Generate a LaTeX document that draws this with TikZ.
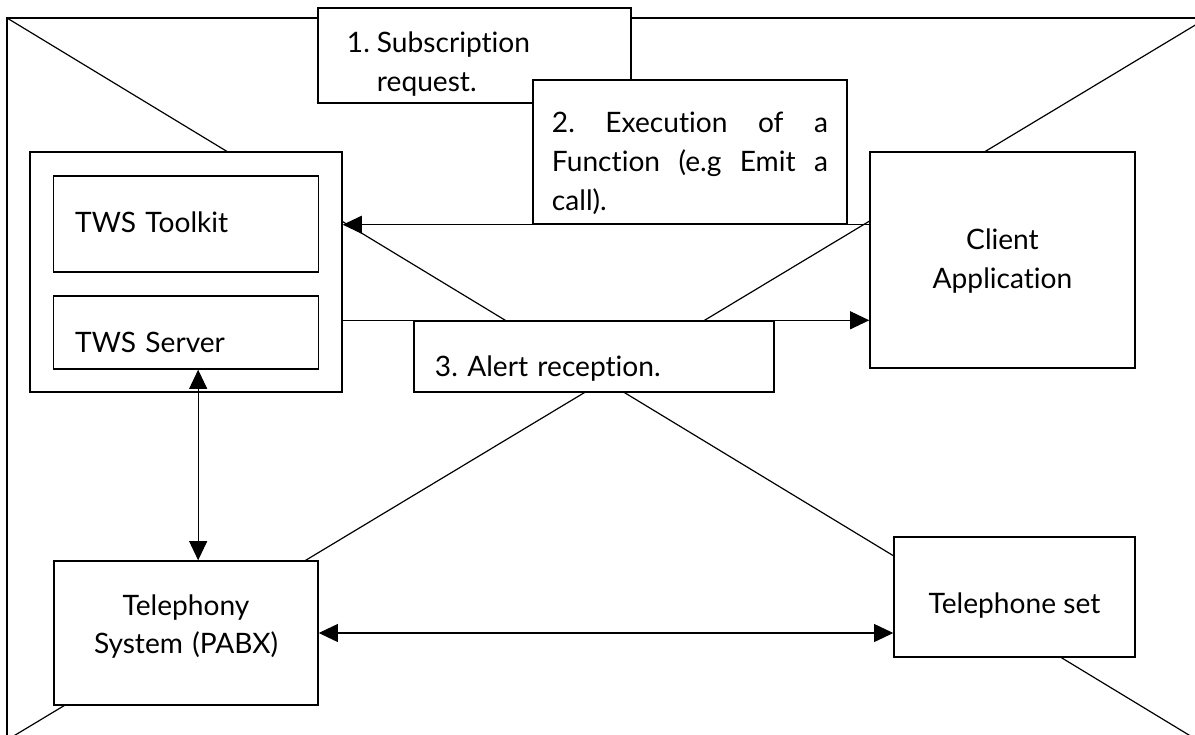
\documentclass[tikz,border=0pt]{standalone}
\usepackage{fontspec}
\setmainfont{Lato}[Ligatures={NoCommon}]
\frenchspacing
\usetikzlibrary{arrows.meta}

\tikzset{
  box/.style={draw, line width=1pt, fill=white, inner sep=0pt,
    font={\fontsize{20}{27.7}\selectfont\tolerance=10000\hyphenpenalty=10000},
    text height=0pt, text depth=0pt},
  cross/.style={line width=0.85pt},
  arr/.style={line width=0.85pt, -{Triangle[length=0.48cm,width=0.45cm]}},
  biarr/.style={line width=0.85pt,
    {Triangle[length=0.48cm,width=0.45cm]}-{Triangle[length=0.48cm,width=0.45cm]}}
}

\begin{document}
\begin{tikzpicture}[x=0.025cm, y=-0.025cm]
  \useasboundingbox (0,0) rectangle (1195,735);

  % Frame with the big cross behind everything
  \begin{scope}
    \clip (0,0) rectangle (1195,735);
    \draw[cross] (7,18) rectangle (1207,743);
    \draw[cross] (7,18) -- (1207,746);
    \draw[cross] (1207,18) -- (7,740);
  \end{scope}

  % Message boxes at the top
  \node[box, minimum width=7.825cm, minimum height=2.375cm, text width=6.375cm,
    align=left, text depth=0.125cm] (sub) at (474.5,55.5)
    {\makebox[0.75cm][l]{1.}Subscription\\\hspace*{0.75cm}request.};
  \node[box, minimum width=7.85cm, minimum height=3.6cm, text width=6.9cm,
    align=justify, text depth=0.95cm] (exe) at (690,152)
    {2. Execution of a\linebreak Function (e.g Emit a\linebreak call).};

  % TWS side
  \node[box, minimum width=7.8cm, minimum height=6cm] (tws) at (186,272) {};
  \node[box, minimum width=6.625cm, minimum height=2.4cm, text width=5.525cm,
    align=left, text height=0.4cm] (toolkit) at (185.75,224) {TWS Toolkit};
  \node[box, minimum width=6.625cm, minimum height=1.825cm, text width=5.525cm,
    align=left, text height=0.975cm] (server) at (185.75,332.5) {TWS Server};

  % Client side
  \node[box, minimum width=6.625cm, minimum height=5.4cm, text width=6cm,
    align=center, text depth=0.5cm] (client) at (1002.5,260) {Client\\Application};

  % Alert box
  \node[box, minimum width=9cm, minimum height=1.775cm, text width=7.95cm,
    align=left, text height=0.975cm] (alert) at (594,356.5) {3. Alert reception.};

  % Telephony
  \node[box, minimum width=6.6cm, minimum height=3.6cm, text width=6cm,
    align=center, text depth=0.9cm] (pabx) at (186,633) {Telephony\\System (PABX)};
  \node[box, minimum width=6.025cm, minimum height=3cm,
    text height=0.8cm] (phone) at (1014.5,597) {Telephone set};

  % Connectors
  \draw[arr] (client.west |- exe.south) -- (tws.east |- exe.south);
  \draw[arr] (tws.east |- alert.north) -- (client.west |- alert.north);
  \draw[biarr] ([xshift=0.31cm]server.south) -- ([xshift=0.31cm]server.south |- pabx.north);
  \draw[biarr] (pabx.east) -- (pabx.east -| phone.west);
\end{tikzpicture}
\end{document}
